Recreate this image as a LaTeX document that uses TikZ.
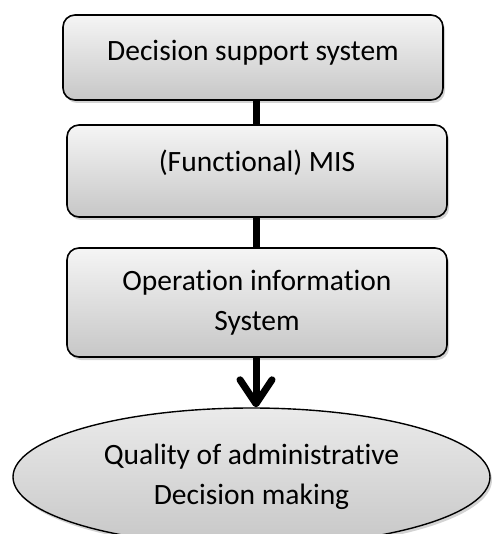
\documentclass[tikz,border=0pt]{standalone}
\usepackage{fontspec}
\setmainfont{Carlito}[Ligatures=NoCommon]
\usetikzlibrary{arrows.meta}
\usetikzlibrary{shadows}
\usetikzlibrary{shapes.geometric}

\tikzset{
  layer/.style={draw=black, line width=1.6pt, rounded corners=12pt, top color=black!4, bottom color=black!22,
    drop shadow={opacity=0.35, shadow xshift=2pt, shadow yshift=-3pt}, inner sep=0pt},
  outcome/.style={ellipse, draw=black, line width=1.4pt, top color=black!8, bottom color=black!22,
    drop shadow={opacity=0.35, shadow xshift=2pt, shadow yshift=-3pt}, inner sep=0pt,
    minimum width=477pt, minimum height=138pt, align=center, font=\fontsize{29.5}{40}\selectfont},
  caption/.style={align=center, font=\fontsize{29.5}{40}\selectfont, inner sep=0pt},
  link/.style={line width=7pt}
}

\begin{document}
\begin{tikzpicture}[x=1pt, y=-1pt]
      \useasboundingbox (0,0) rectangle (491,534);
      % layer 1
      \node[layer, minimum width=380pt, minimum height=85pt] (dss) at (253,57.5) {};
      \node[caption] (dsstext) at (253,53) {Decision support system};
      % layer 2
      \node[layer, minimum width=380pt, minimum height=92pt] (mis) at (257,171) {};
      \node[caption] (mistext) at (257,163) {(Functional) MIS};
      % layer 3
      \node[layer, minimum width=380pt, minimum height=109pt] (ois) at (257,302.5) {};
      \node[caption] (oistext) at (257,303) {Operation information\\System};
      % outcome
      \node[outcome] (quality) at (251.5,477) {Quality of administrative\\Decision making};
      % connectors
      \draw[link] (mis.north -| 256,0) -- (dss.south -| 256,0);
      \draw[link] (ois.north -| 256,0) -- (mis.south -| 256,0);
      \draw[link, -{Straight Barb[length=24pt, width=32pt, round]}] (ois.south -| 256,0) -- (quality.north -| 256,0);
    \end{tikzpicture}
\end{document}
